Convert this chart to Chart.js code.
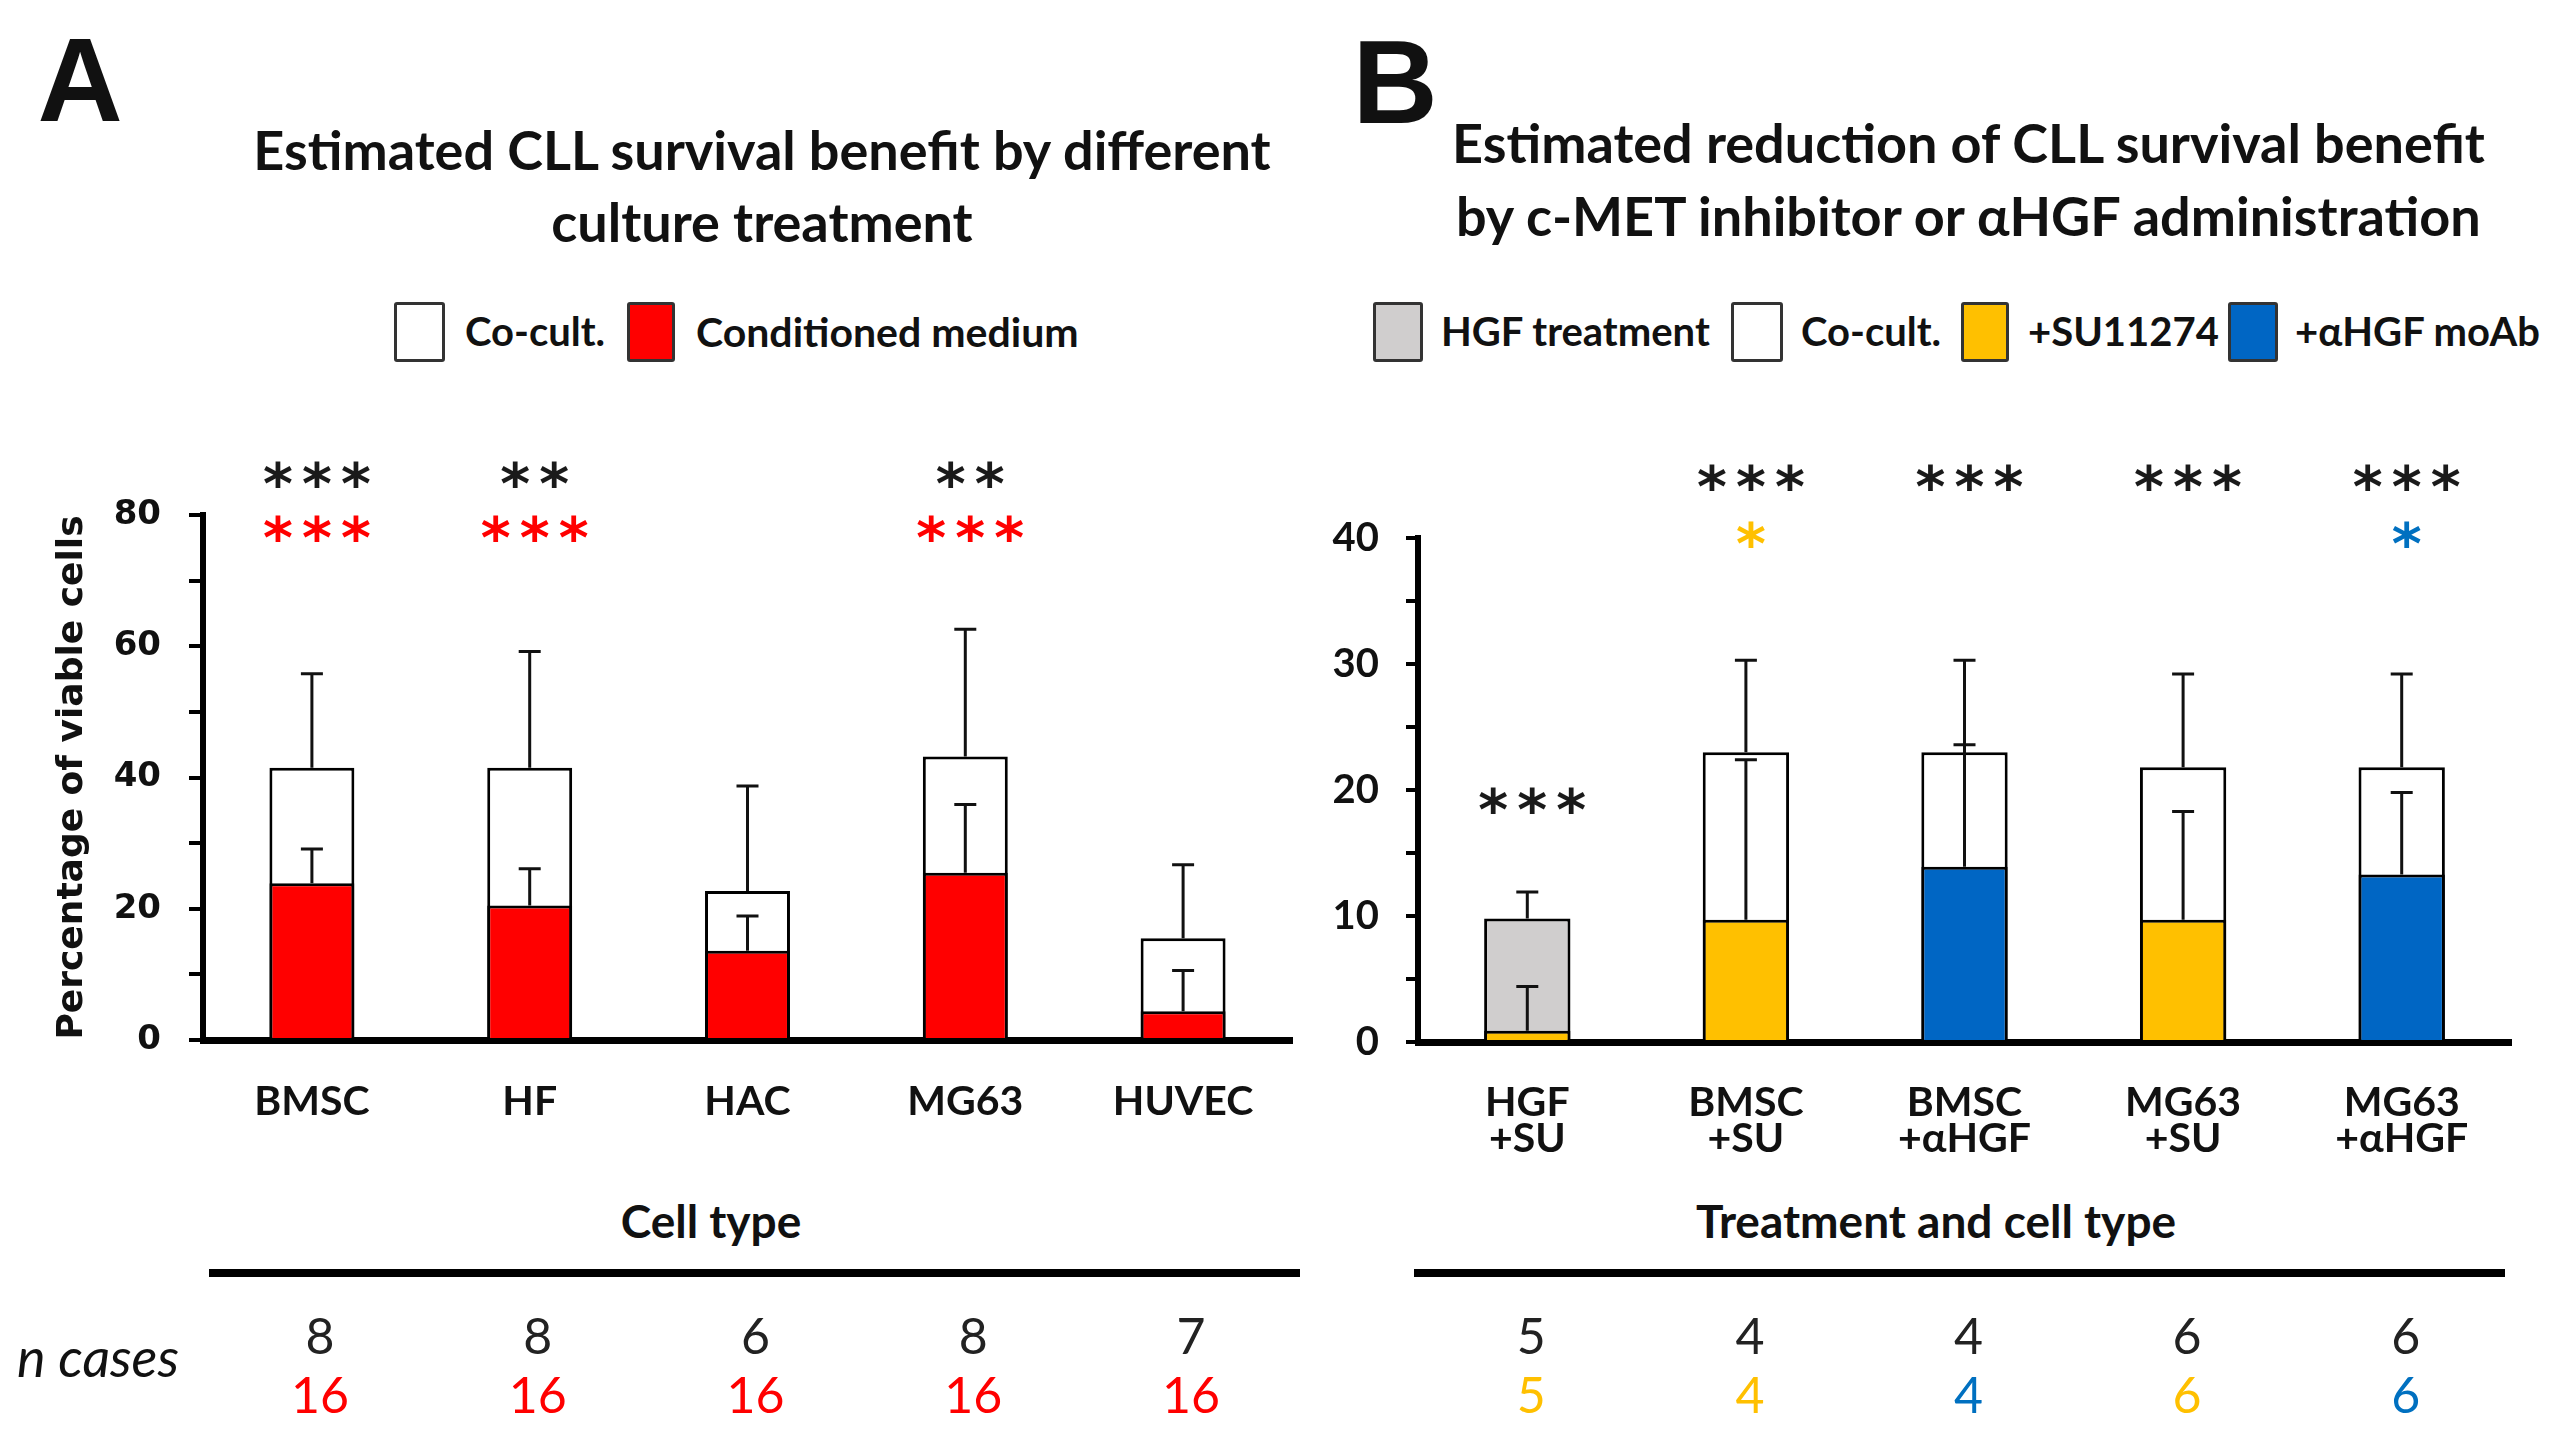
<!DOCTYPE html>
<html><head><meta charset="utf-8">
<script src="https://cdn.jsdelivr.net/npm/chart.js@4.4.1/dist/chart.umd.min.js"></script>
<style>
html,body{margin:0;padding:0;background:#fff;}
body{width:2568px;height:1455px;position:relative;overflow:hidden;font-family:Lato,sans-serif;color:#111;}
.t{position:absolute;white-space:nowrap;line-height:1;transform:translate(-50%,-50%);}
.l{position:absolute;white-space:nowrap;line-height:1;transform:translateY(-50%);}
.sq{position:absolute;box-sizing:border-box;border:3px solid #333;border-radius:3px;top:302px;height:60px;}
.ttl{font-weight:700;font-size:54px;}
.lg{font-weight:700;font-size:40px;top:331px;}
.big{font-family:'Liberation Sans',Arial,sans-serif;font-weight:700;font-size:118px;}
.ax{font-weight:700;font-size:46px;}
canvas{position:absolute;}
</style></head><body>
<div class="t big" style="left:80px;top:80px;">A</div>
<div class="t big" style="left:1395px;top:82px;">B</div>
<div class="t ttl" style="left:762px;top:150px;">Estimated CLL survival benefit by different</div>
<div class="t ttl" style="left:762px;top:222px;">culture treatment</div>
<div class="l ttl" style="left:1452px;top:143px;">Estimated reduction of CLL survival benefit</div>
<div class="l ttl" style="left:1456px;top:216px;">by c-MET inhibitor or αHGF administration</div>

<div class="sq" style="left:394px;width:51px;background:#fff;"></div>
<div class="l lg" style="left:465px;">Co-cult.</div>
<div class="sq" style="left:627px;width:48px;background:#FF0000;"></div>
<div class="l lg" style="left:696px;font-size:41px;">Conditioned medium</div>

<div class="sq" style="left:1373px;width:50px;background:#D0CECE;"></div>
<div class="l lg" style="left:1441px;">HGF treatment</div>
<div class="sq" style="left:1731px;width:52px;background:#fff;"></div>
<div class="l lg" style="left:1801px;">Co-cult.</div>
<div class="sq" style="left:1961px;width:48px;background:#FFC000;"></div>
<div class="l lg" style="left:2028px;">+SU11274</div>
<div class="sq" style="left:2228px;width:50px;background:#0066C4;"></div>
<div class="l lg" style="left:2295px;">+αHGF moAb</div>

<div class="t ax" style="left:711px;top:1221px;">Cell type</div>
<div class="t ax" style="left:1936px;top:1221px;">Treatment and cell type</div>
<div class="l" style="left:17px;top:1357px;font-style:italic;font-size:54px;">n cases</div>

<canvas id="cA" width="1300" height="1055" style="left:0;top:400px;width:1300px;height:1055px;"></canvas>
<canvas id="cB" width="1268" height="1055" style="left:1300px;top:400px;width:1268px;height:1055px;"></canvas>

<script>
// ---- Panel A data ----
const catsA = ['BMSC', 'HF', 'HAC', 'MG63', 'HUVEC'];
const coCultA = [41.5, 41.5, 22.7, 43.2, 15.5];
const coCultSdA = [14.3, 17.7, 16.0, 19.4, 11.2];
const condMedA = [23.9, 20.5, 13.6, 25.5, 4.4];
const condMedSdA = [5.2, 5.6, 5.3, 10.4, 6.2];
const starsCoCultA = ['***', '**', '', '**', ''];
const starsCondMedA = ['***', '***', '', '***', ''];
const nCoCultA = [8, 8, 6, 8, 7];
const nCondMedA = [16, 16, 16, 16, 16];
const yTicksA = [0, 20, 40, 60, 80];

// ---- Panel B data ----
const catsB = [['HGF', '+SU'], ['BMSC', '+SU'], ['BMSC', '+αHGF'], ['MG63', '+SU'], ['MG63', '+αHGF']];
const backB = [9.8, 23.0, 23.0, 21.8, 21.8];
const backSdB = [2.1, 7.3, 7.3, 7.4, 7.4];
const frontB = [0.9, 9.7, 13.9, 9.7, 13.3];
const frontSdB = [3.5, 12.7, 9.7, 8.6, 6.5];
const starsBackB = ['***', '***', '***', '***', '***'];
const starsFrontB = ['', '*', '', '', '*'];
const nBackB = [5, 4, 4, 6, 6];
const nFrontB = [5, 4, 4, 6, 6];
const yTicksB = [0, 10, 20, 30, 40];

// ---- styles ----
const RED = '#FF0000', GRAY = '#D0CECE', WHITE = '#FFFFFF', YEL = '#FFC000', BLUE = '#0066C4';
const STAR_BLUE = '#0070C0', DARK = '#1a1a1a';
const backColorsB = [GRAY, WHITE, WHITE, WHITE, WHITE];
const frontColorsB = [YEL, YEL, BLUE, YEL, BLUE];
const frontStarColorsB = [YEL, YEL, STAR_BLUE, YEL, STAR_BLUE];

const errorBars = {
  id: 'errorBars',
  afterDatasetsDraw(chart) {
    const ctx = chart.ctx, ys = chart.scales.y;
    chart.data.datasets.forEach((ds, i) => {
      const meta = chart.getDatasetMeta(i);
      meta.data.forEach((bar, j) => {
        const v = ds.data[j], s = ds.sd[j];
        const x = bar.x, y0 = ys.getPixelForValue(v), y1 = ys.getPixelForValue(v + s);
        ctx.save();
        ctx.strokeStyle = '#111'; ctx.lineWidth = 3;
        ctx.beginPath();
        ctx.moveTo(x, y0); ctx.lineTo(x, y1);
        ctx.moveTo(x - 11, y1); ctx.lineTo(x + 11, y1);
        ctx.stroke();
        ctx.restore();
      });
    });
  }
};

const stars = {
  id: 'stars',
  afterDraw(chart, args, opts) {
    const ctx = chart.ctx, xs = chart.scales.x, ys = chart.scales.y;
    ctx.save();
    const fam = opts.font;
    ctx.font = fam.replace('SIZE', '100');
    const m0 = ctx.measureText('*');
    const w0 = m0.actualBoundingBoxLeft + m0.actualBoundingBoxRight;
    const size = 100 * opts.starWidth / w0;
    ctx.font = fam.replace('SIZE', String(size));
    const m = ctx.measureText('*');
    const off = (m.actualBoundingBoxAscent - m.actualBoundingBoxDescent) / 2;
    const cx = (m.actualBoundingBoxRight - m.actualBoundingBoxLeft) / 2;
    ctx.textAlign = 'left'; ctx.textBaseline = 'alphabetic';
    opts.rows.forEach(row => {
      row.texts.forEach((s, i) => {
        if (!s) return;
        const val = (row.overrides && row.overrides[i] !== undefined) ? row.overrides[i] : row.value;
        const yc = ys.getPixelForValue(val);
        const xc = xs.getPixelForValue(i) + opts.dx;
        ctx.fillStyle = Array.isArray(row.color) ? row.color[i] : row.color;
        const n = s.length;
        for (let k = 0; k < n; k++) {
          const x = xc + (k - (n - 1) / 2) * opts.pitch;
          ctx.fillText('*', x - cx, yc + off);
        }
      });
    });
    ctx.restore();
  }
};

const cases = {
  id: 'cases',
  afterDraw(chart, args, opts) {
    const ctx = chart.ctx, xs = chart.scales.x, ca = chart.chartArea;
    ctx.save();
    ctx.strokeStyle = '#000'; ctx.lineWidth = 8;
    ctx.beginPath();
    ctx.moveTo(ca.left + opts.lineL, ca.bottom + opts.lineY);
    ctx.lineTo(ca.right + opts.lineR, ca.bottom + opts.lineY);
    ctx.stroke();
    ctx.font = '400 50px Lato';
    ctx.textAlign = 'center'; ctx.textBaseline = 'middle';
    opts.rows.forEach(row => {
      row.values.forEach((v, i) => {
        ctx.fillStyle = Array.isArray(row.color) ? row.color[i] : row.color;
        ctx.fillText(String(v), xs.getPixelForValue(i) + opts.dx, ca.bottom + row.dy);
      });
    });
    ctx.restore();
  }
};

function baseOptions(o) {
  return {
    responsive: false, animation: false, devicePixelRatio: 1,
    layout: { padding: { left: 0, top: o.top, right: o.right, bottom: 0 } },
    plugins: { legend: { display: false }, tooltip: { enabled: false }, stars: o.stars, cases: o.cases },
    scales: {
      x: {
        z: 1,
        offset: true,
        grid: { display: false, drawTicks: false },
        border: { display: true, color: '#000', width: 7 },
        ticks: { font: { family: 'Lato', weight: '700', size: 41, lineHeight: 0.88 }, color: '#111', padding: o.xpad, autoSkip: false, maxRotation: 0 },
        afterFit: s => { s.height = o.xh; }
      },
      y: {
        z: 1,
        min: 0, max: o.max,
        grid: { display: true, drawOnChartArea: false, drawTicks: true, tickLength: o.tl, color: '#000', lineWidth: 4 },
        border: { display: true, color: '#000', width: 6 },
        ticks: {
          stepSize: o.max / 8, font: o.tickFont, color: '#111', padding: o.ypad,
          callback: v => (o.labels.includes(v) ? String(v) : '')
        },
        title: o.ytitle,
        afterFit: s => { s.width = o.yw; }
      }
    }
  };
}

const STAR_FONT = '700 SIZEpx "DejaVu Sans"';

new Chart(document.getElementById('cA'), {
  type: 'bar',
  data: {
    labels: catsA,
    datasets: [
      { label: 'Conditioned medium', data: condMedA, sd: condMedSdA, backgroundColor: RED, borderColor: '#000', borderWidth: 3, grouped: false, order: 1, barPercentage: 0.39, categoryPercentage: 1 },
      { label: 'Co-cult.', data: coCultA, sd: coCultSdA, backgroundColor: WHITE, borderColor: '#000', borderWidth: 3, grouped: false, order: 2, barPercentage: 0.39, categoryPercentage: 1 }
    ]
  },
  options: baseOptions({
    top: 115, right: 8, xh: 415, yw: 203, xpad: 44, ypad: 28, tl: 14, max: 80, labels: yTicksA,
    tickFont: { family: 'DejaVu Sans', weight: '700', size: 34 },
    ytitle: { display: true, text: 'Percentage of viable cells', color: '#111', font: { family: 'DejaVu Sans', weight: '700', size: 36 }, padding: { top: 51, bottom: 0 } },
    stars: { font: STAR_FONT, starWidth: 28, pitch: 39, dx: 5, rows: [
      { texts: starsCoCultA, color: DARK, value: 86.1 },
      { texts: starsCondMedA, color: RED, value: 78.0 }
    ] },
    cases: { lineY: 233, lineL: 6, lineR: 8, dx: 8, rows: [
      { values: nCoCultA, color: '#222', dy: 298 },
      { values: nCondMedA, color: RED, dy: 357 }
    ] }
  }),
  plugins: [errorBars, stars, cases]
});

new Chart(document.getElementById('cB'), {
  type: 'bar',
  data: {
    labels: catsB,
    datasets: [
      { label: 'Treatment', data: frontB, sd: frontSdB, backgroundColor: frontColorsB, borderColor: '#000', borderWidth: 3, grouped: false, order: 1, barPercentage: 0.395, categoryPercentage: 1 },
      { label: 'Untreated', data: backB, sd: backSdB, backgroundColor: backColorsB, borderColor: '#000', borderWidth: 3, grouped: false, order: 2, barPercentage: 0.395, categoryPercentage: 1 }
    ]
  },
  options: baseOptions({
    top: 138, right: 57, xh: 413, yw: 118, xpad: 43, ypad: 27, tl: 12, max: 40, labels: yTicksB,
    tickFont: { family: 'Lato', weight: '700', size: 40 },
    ytitle: { display: false },
    stars: { font: STAR_FONT, starWidth: 28, pitch: 39, dx: 5, rows: [
      { texts: starsBackB, color: DARK, value: 44.8, overrides: { 0: 19.2 } },
      { texts: starsFrontB, color: frontStarColorsB, value: 40.3 }
    ] },
    cases: { lineY: 231, lineL: -4, lineR: -6, dx: 4, rows: [
      { values: nBackB, color: '#222', dy: 296 },
      { values: nFrontB, color: frontStarColorsB, dy: 355 }
    ] }
  }),
  plugins: [errorBars, stars, cases]
});
</script>
</body></html>
